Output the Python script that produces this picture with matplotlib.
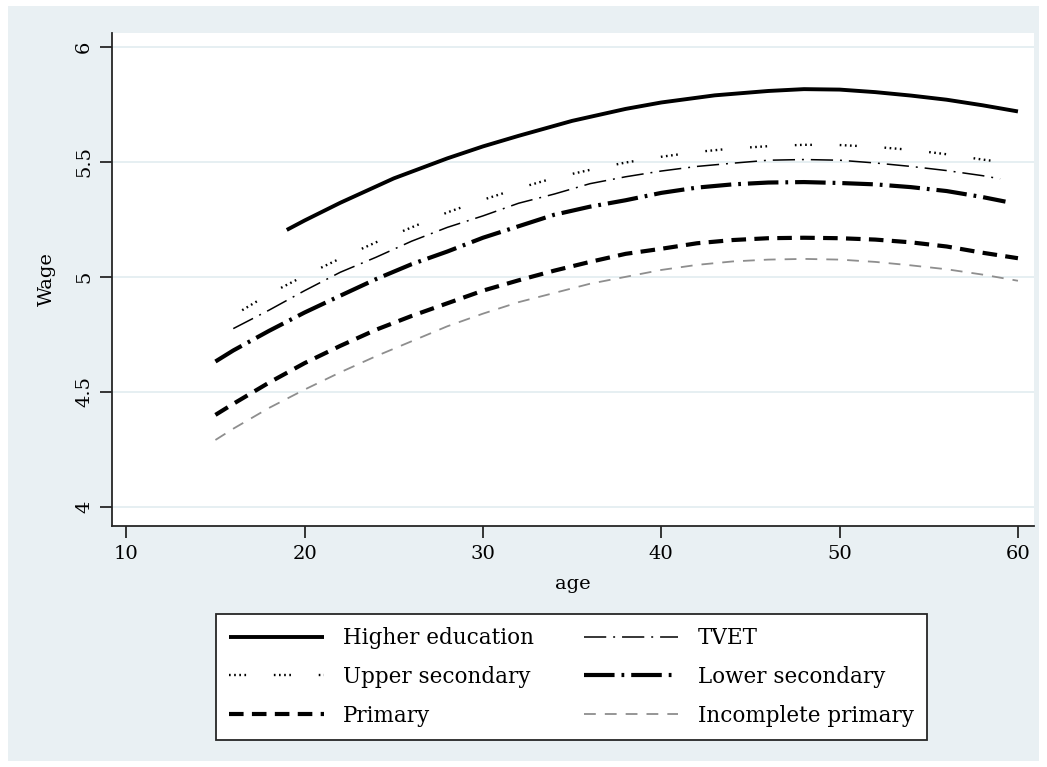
import matplotlib
matplotlib.use('Agg')
import matplotlib.pyplot as plt
from matplotlib.patches import Rectangle

plt.rcParams['font.family'] = ['DejaVu Serif']
plt.rcParams['lines.scale_dashes'] = False

# ---- data ----
higher_age = [19, 20, 22, 25, 28, 30, 32, 35, 38, 40, 43, 46, 48, 50, 52, 54, 56, 58, 60]
higher_wage = [5.204, 5.245, 5.322, 5.428, 5.515, 5.567, 5.613, 5.678, 5.73, 5.758, 5.789, 5.808,
               5.816, 5.814, 5.803, 5.788, 5.77, 5.746, 5.719]

tvet_age = [16, 18, 20, 22, 24, 26, 28, 30, 32, 34, 36, 38, 40, 42, 44, 46, 48, 50, 52, 54, 56, 58, 59]
tvet_wage = [4.775, 4.855, 4.94, 5.02, 5.085, 5.155, 5.215, 5.265, 5.32, 5.36, 5.405, 5.435, 5.46,
             5.48, 5.494, 5.507, 5.51, 5.507, 5.495, 5.48, 5.462, 5.44, 5.426]

upper_age = [16.5, 18, 20, 22, 24, 26, 28, 30, 32, 34, 36, 38, 40, 42, 44, 46, 48, 50, 52, 54, 56, 58, 59]
upper_wage = [4.855, 4.925, 5.005, 5.08, 5.15, 5.215, 5.28, 5.335, 5.385, 5.43, 5.465, 5.497,
              5.522, 5.543, 5.558, 5.568, 5.574, 5.573, 5.565, 5.552, 5.533, 5.51, 5.50]

lower_age = [15, 16, 18, 20, 22, 24, 26, 28, 30, 32, 34, 36, 38, 40, 42, 44, 46, 48, 50, 52, 54, 56, 58, 59.3]
lower_wage = [4.632, 4.68, 4.765, 4.845, 4.918, 4.99, 5.055, 5.11, 5.17, 5.22, 5.27, 5.305, 5.333,
              5.365, 5.388, 5.402, 5.41, 5.412, 5.408, 5.402, 5.39, 5.373, 5.347, 5.327]

primary_age = [15, 16, 18, 20, 22, 24, 26, 28, 30, 32, 34, 36, 38, 40, 42, 44, 46, 48, 50, 52, 54, 56, 58, 60]
primary_wage = [4.40, 4.448, 4.54, 4.625, 4.70, 4.77, 4.83, 4.885, 4.94, 4.985, 5.027, 5.065, 5.10,
                5.122, 5.146, 5.16, 5.168, 5.17, 5.168, 5.162, 5.15, 5.132, 5.105, 5.081]

incomplete_age = [15, 16, 18, 20, 22, 24, 26, 28, 30, 32, 34, 36, 38, 40, 42, 44, 46, 48, 50, 52, 54, 56, 58, 60]
incomplete_wage = [4.291, 4.34, 4.43, 4.51, 4.585, 4.655, 4.72, 4.785, 4.84, 4.89, 4.93, 4.97, 5.0,
                   5.03, 5.052, 5.067, 5.075, 5.078, 5.075, 5.065, 5.05, 5.033, 5.01, 4.983]

x_ticks = [10, 20, 30, 40, 50, 60]
y_ticks = [4, 4.5, 5, 5.5, 6]
y_tick_labels = ['4', '4.5', '5', '5.5', '6']

# ---- figure ----
W, H = 1047, 767
fig = plt.figure(figsize=(W / 100, H / 100), dpi=100, facecolor='white')
fig.patches.append(Rectangle((8 / W, 6 / H), (1039 - 8) / W, (761 - 6) / H,
                             transform=fig.transFigure, facecolor='#e9f0f3',
                             edgecolor='none', zorder=-10))

ax = fig.add_axes([112 / W, 1 - 526 / H, (1034 - 112) / W, (526 - 33) / H])
ax.set_facecolor('white')
ax.set_xlim(9.2, 60.9)
ax.set_ylim(3.917, 6.06)

common = dict(solid_capstyle='butt', dash_capstyle='butt')
l_higher, = ax.plot(higher_age, higher_wage, color='black', lw=2.8, ls='-', **common)
l_tvet, = ax.plot(tvet_age, tvet_wage, color='black', lw=1.1,
                  ls=(0, (16, 5, 1.4, 5)), **common)
l_upper, = ax.plot(upper_age, upper_wage, color='black', lw=1.7,
                   ls=(0, (1.2, 2.5, 1.2, 2.5, 1.2, 2.5, 1.2, 20)), **common)
l_lower, = ax.plot(lower_age, lower_wage, color='black', lw=3.0,
                   ls=(0, (22, 5, 2, 5)), **common)
l_primary, = ax.plot(primary_age, primary_wage, color='black', lw=3.0,
                     ls=(0, (10.5, 6)), **common)
l_incomplete, = ax.plot(incomplete_age, incomplete_wage, color='#8e8e8e', lw=1.3,
                        ls=(0, (8.5, 6.5)), **common)

for s in ['top', 'right']:
    ax.spines[s].set_visible(False)
for s in ['left', 'bottom']:
    ax.spines[s].set_color('#262626')
    ax.spines[s].set_linewidth(1.3)

ax.set_xticks(x_ticks)
ax.set_yticks(y_ticks)
ax.set_yticklabels(y_tick_labels)
ax.tick_params(axis='both', length=8.5, width=1.3, color='#262626', labelsize=14, pad=5)
for t in ax.get_yticklabels():
    t.set_rotation(90)
    t.set_va('center')
ax.yaxis.grid(True, color='#e4eef1', lw=1.3)
ax.set_axisbelow(True)

ax.set_xlabel('age', fontsize=14, labelpad=9)
ax.set_ylabel('Wage', fontsize=14, labelpad=14)

handles = [l_higher, l_upper, l_primary, l_tvet, l_lower, l_incomplete]
labels = ['Higher education', 'Upper secondary', 'Primary',
          'TVET', 'Lower secondary', 'Incomplete primary']
leg = fig.legend(handles, labels, ncol=2, loc='center',
                 bbox_to_anchor=(571.5 / W, 1 - 677 / H),
                 frameon=True, fancybox=False, fontsize=15.5,
                 handlelength=4.4, handletextpad=0.9, columnspacing=2.3,
                 borderpad=0.6, labelspacing=0.78)
frame = leg.get_frame()
frame.set_edgecolor('#262626')
frame.set_linewidth(1.3)
frame.set_facecolor('white')
frame.set_alpha(1)

fig.savefig('out.png', dpi=100, facecolor='white')
